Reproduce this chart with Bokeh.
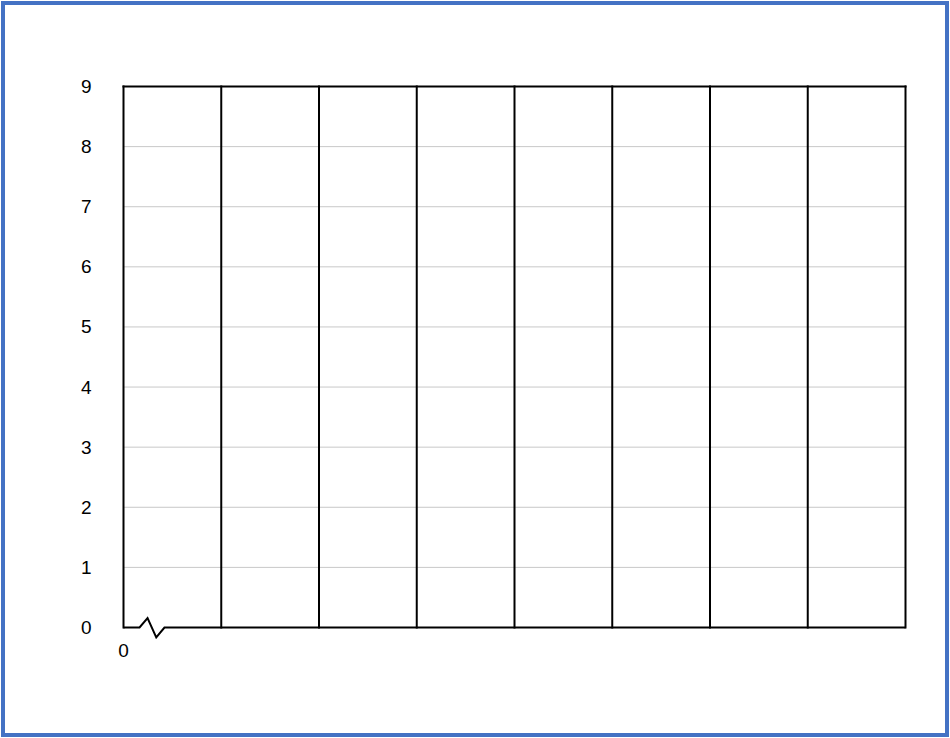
from bokeh.plotting import figure
from bokeh.models import Range1d, FixedTicker
from bokeh.embed import file_html
from bokeh.resources import INLINE

# ---- data ----
y_ticks = [0, 1, 2, 3, 4, 5, 6, 7, 8, 9]
x_ticks = [0]
x_tick_labels = {0: "0"}
x_dividers = [0, 1, 2, 3, 4, 5, 6, 7, 8]
grid_levels = [1, 2, 3, 4, 5, 6, 7, 8]
x_max = 8
y_max = 9
# axis-break zigzag on the bottom edge (data units)
break_x = [0.0, 0.164, 0.246, 0.335, 0.419, 8.0]
break_y = [0.0, 0.0, 0.155, -0.166, 0.0, 0.0]

# ---- layout ----
PAGE_W, PAGE_H = 950, 738
EDGE = 5            # 1px margin + 4px blue page border
BORDER = 4
W, H = PAGE_W - 2 * EDGE, PAGE_H - 2 * EDGE
CANVAS_W, CANVAS_H = W + 2 * BORDER, H + 2 * BORDER
left_px, right_px, top_px, bottom_px = 123 - EDGE, 905 - EDGE, 86 - EDGE, 627 - EDGE
pad_l, pad_r, pad_t, pad_b = 6, 6, 4, 12
sx = (right_px - left_px) / x_max
sy = (bottom_px - top_px) / y_max

FONT = "Liberation Sans"

p = figure(
    width=W, height=H,
    x_range=Range1d(-pad_l / sx, x_max + pad_r / sx),
    y_range=Range1d(-pad_b / sy, y_max + pad_t / sy),
    output_backend="svg", toolbar_location=None,
    min_border_left=left_px - pad_l,
    min_border_right=CANVAS_W - right_px - pad_r,
    min_border_top=top_px - pad_t,
    min_border_bottom=CANVAS_H - bottom_px - pad_b,
    styles={"border": "4px solid #4472C4", "margin": "1px",
            "box-sizing": "content-box"},
)
p.outline_line_color = None
p.background_fill_color = "white"
p.border_fill_color = "white"
p.xgrid.visible = False
p.ygrid.visible = False

# y axis
ya = p.yaxis[0]
ya.ticker = FixedTicker(ticks=y_ticks)
ya.axis_line_color = None
ya.major_tick_line_color = None
ya.minor_tick_line_color = None
ya.major_label_text_font = FONT
ya.major_label_text_font_size = "19px"
ya.major_label_text_color = "black"
ya.major_label_standoff = 20

# x axis
xa = p.xaxis[0]
xa.ticker = FixedTicker(ticks=x_ticks)
xa.major_label_overrides = x_tick_labels
xa.axis_line_color = None
xa.major_tick_line_color = None
xa.minor_tick_line_color = None
xa.major_label_text_font = FONT
xa.major_label_text_font_size = "19px"
xa.major_label_text_color = "black"
xa.major_label_standoff = -2

# light horizontal gridlines
p.segment(x0=[0] * len(grid_levels), x1=[x_max] * len(grid_levels),
          y0=grid_levels, y1=grid_levels, line_color="#c8c8c8", line_width=1)

# black vertical dividers
p.segment(x0=x_dividers, x1=x_dividers, y0=[0] * len(x_dividers),
          y1=[y_max] * len(x_dividers), line_color="black", line_width=2,
          line_cap="square")
# top edge
p.segment(x0=[0], x1=[x_max], y0=[y_max], y1=[y_max], line_color="black",
          line_width=2, line_cap="square")
# bottom edge with break
p.line(break_x, break_y, line_color="black", line_width=2, line_join="miter")

open("out.html", "w").write(file_html(p, INLINE))
